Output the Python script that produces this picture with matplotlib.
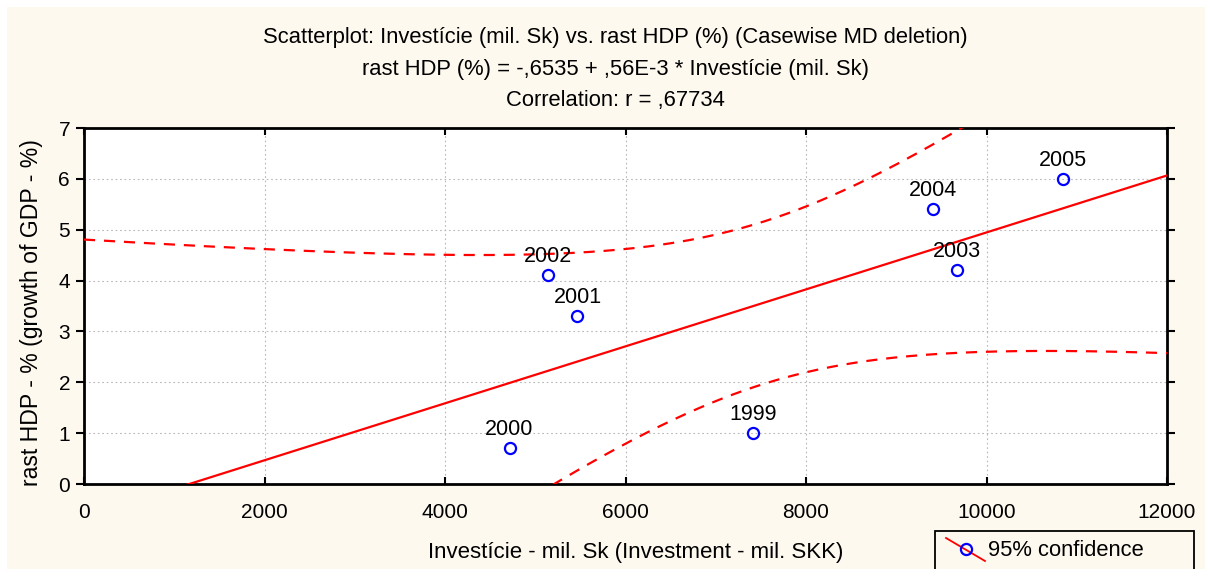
import numpy as np
import matplotlib.pyplot as plt
from matplotlib.lines import Line2D
from matplotlib.patches import Rectangle

plt.rcParams['font.family'] = ['Liberation Sans', 'DejaVu Sans']

# Data: investment (mil. Sk) vs GDP growth (%)
years = ['1999', '2000', '2001', '2002', '2003', '2004', '2005']
invest = np.array([7416, 4715, 5468, 5136, 9674, 9408, 10843])
growth = np.array([1.0, 0.7, 3.3, 4.1, 4.2, 5.4, 6.0])

# Regression coefficients as reported
b0 = -0.6535
b1 = 0.56e-3
t_crit = 2.5706  # t(0.975, df=5)

xlim = (0, 12000)
ylim = (0, 7)

W, H = 1205, 569
cream = '#fdf9ef'


def fx(px):
    return px / W


def fy(py):
    return 1 - py / H


fig = plt.figure(figsize=(W / 100, H / 100), dpi=100, facecolor='white')
fig.patches.append(Rectangle((fx(7), 0), 1 - fx(7), fy(7),
                             transform=fig.transFigure, facecolor=cream,
                             edgecolor='none', zorder=-10))

ax = fig.add_axes([fx(84), fy(484), fx(1167 - 84), (484 - 128) / H])
ax.set_facecolor('white')

# regression line and 95% confidence band of the mean
xs = np.linspace(xlim[0], xlim[1], 400)
ys = b0 + b1 * xs
n = len(invest)
resid = growth - (b0 + b1 * invest)
s = np.sqrt(np.sum(resid ** 2) / (n - 2))
sxx = np.sum((invest - invest.mean()) ** 2)
half = t_crit * s * np.sqrt(1 / n + (xs - invest.mean()) ** 2 / sxx)

ax.plot(xs, ys, color='red', lw=1.6, zorder=3)
ax.plot(xs, ys + half, color='red', lw=1.6, ls=(0, (5, 4)), zorder=3)
ax.plot(xs, ys - half, color='red', lw=1.6, ls=(0, (5, 4)), zorder=3)

ax.plot(invest, growth, 'o', ms=8, mfc='none', mec='blue', mew=1.6, zorder=4)
for x, y, lab in zip(invest, growth, years):
    ax.annotate(lab, (x, y), xytext=(0, 6), textcoords='offset points',
                ha='center', va='bottom', fontsize=15.5)

ax.set_xlim(*xlim)
ax.set_ylim(*ylim)
ax.set_xticks(np.arange(0, 12001, 2000))
ax.set_yticks(np.arange(0, 8, 1))
ax.grid(True, color='#b8b8b8', ls=(0, (1.5, 2.5)), lw=0.8)
ax.set_axisbelow(True)
for sp in ax.spines.values():
    sp.set_linewidth(2)
ax.tick_params(axis='x', direction='in', top=True, length=5, width=1.5,
               labelsize=15, pad=14)
ax.tick_params(axis='y', direction='out', right=True, length=6, width=1.5,
               labelsize=15, pad=4)

ax.set_xlabel('Investície - mil. Sk (Investment - mil. SKK)', fontsize=16)
ax.xaxis.set_label_coords((636 - 84) / 1083, (484 - 542) / 356)
ax.set_ylabel('rast HDP - % (growth of GDP - %)', fontsize=16.6)
ax.yaxis.set_label_coords((43 - 84) / 1083, (484 - 312.5) / 356)

fig.text(fx(615), fy(38),
         'Scatterplot: Investície (mil. Sk) vs. rast HDP (%) (Casewise MD deletion)',
         ha='center', va='center', fontsize=15.8)
fig.text(fx(615), fy(70),
         'rast HDP (%) = -,6535 + ,56E-3 * Investície (mil. Sk)',
         ha='center', va='center', fontsize=15.8)
fig.text(fx(615), fy(100), 'Correlation: r = ,67734',
         ha='center', va='center', fontsize=15.8)

# legend box drawn in figure coordinates
fig.patches.append(Rectangle((fx(935), fy(575)), fx(1194 - 935), (575 - 531) / H,
                             transform=fig.transFigure, facecolor=cream,
                             edgecolor='black', lw=1.3, zorder=5))
fig.add_artist(Line2D([fx(946), fx(985)], [fy(538), fy(561)], color='red',
                      lw=1.3, transform=fig.transFigure, zorder=6))
fig.add_artist(Line2D([fx(966)], [fy(549)], marker='o', ms=8, mfc='none',
                      mec='blue', mew=1.6, ls='none', transform=fig.transFigure,
                      zorder=7))
fig.text(fx(988), fy(550), '95% confidence', ha='left', va='center',
         fontsize=15.8, zorder=7)

fig.savefig('out.png', dpi=100, facecolor=fig.get_facecolor())
